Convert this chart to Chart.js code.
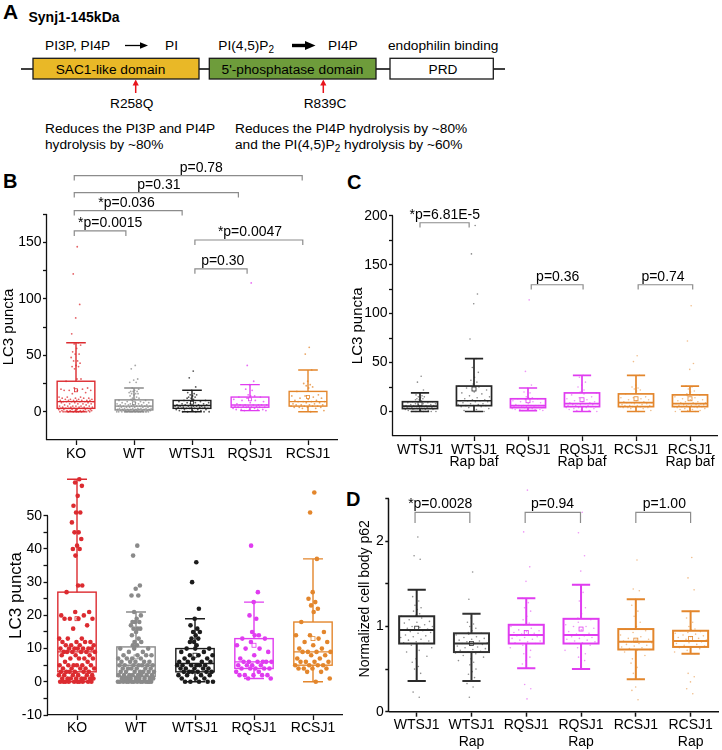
<!DOCTYPE html>
<html>
<head>
<meta charset="utf-8">
<script src="https://cdn.jsdelivr.net/npm/chart.js@4.4.1/dist/chart.umd.min.js"></script>
<style>
  html, body { margin: 0; padding: 0; background: #fff; }
  #page { position: relative; width: 722px; height: 750px; overflow: hidden; }
  #page canvas { position: absolute; }
  svg text { font-family: 'Liberation Sans', Arial, sans-serif; }
</style>
</head>
<body>
<div id="page">
<svg width="722" height="750" style="position:absolute;left:0;top:0">
  <text x="3" y="19" font-size="21" font-weight="bold">A</text>
  <text x="28.5" y="21.7" font-size="14" font-weight="bold">Synj1-145kDa</text>
  <g font-size="13.7">
    <text x="45" y="50">PI3P, PI4P</text>
    <line x1="125" y1="45.5" x2="141" y2="45.5" stroke="#000" stroke-width="1.3"/>
    <polygon points="140,42.3 148,45.5 140,48.7" fill="#000"/>
    <text x="165" y="50">PI</text>
    <text x="218.3" y="50">PI(4,5)P<tspan font-size="10" dy="3">2</tspan></text>
    <line x1="292" y1="45.5" x2="306" y2="45.5" stroke="#000" stroke-width="3.4"/>
    <polygon points="305,41 315.5,45.5 305,50" fill="#000"/>
    <text x="328" y="50">PI4P</text>
    <text x="388" y="50">endophilin binding</text>

    <line x1="21" y1="69" x2="505" y2="69" stroke="#000" stroke-width="1.3"/>
    <rect x="33" y="58.3" width="166" height="20.7" fill="#e9b827" stroke="#1a1a1a" stroke-width="1.3"/>
    <rect x="209.3" y="58.3" width="166.7" height="20.7" fill="#6e9c3b" stroke="#1a1a1a" stroke-width="1.3"/>
    <rect x="390" y="58.3" width="103.3" height="20.7" fill="#fff" stroke="#1a1a1a" stroke-width="1.3"/>
    <text x="110.5" y="74" text-anchor="middle">SAC1-like domain</text>
    <text x="292.5" y="74" text-anchor="middle">5'-phosphatase domain</text>
    <text x="443" y="74" text-anchor="middle">PRD</text>

    <line x1="135.7" y1="93" x2="135.7" y2="84" stroke="#e8141c" stroke-width="1.5"/>
    <polygon points="132.6,85.5 135.7,79.5 138.8,85.5" fill="#e8141c"/>
    <line x1="323.3" y1="93" x2="323.3" y2="84" stroke="#e8141c" stroke-width="1.5"/>
    <polygon points="320.2,85.5 323.3,79.5 326.4,85.5" fill="#e8141c"/>
    <text x="131.7" y="108.3" text-anchor="middle">R258Q</text>
    <text x="325" y="108.3" text-anchor="middle">R839C</text>

    <text x="45" y="132.7">Reduces the PI3P and PI4P</text>
    <text x="45" y="148.5">hydrolysis by ~80%</text>
    <text x="235" y="132.7">Reduces the PI4P hydrolysis by ~80%</text>
    <text x="235" y="148.5">and the PI(4,5)P<tspan font-size="10" dy="3">2</tspan><tspan dy="-3"> hydrolysis by ~60%</tspan></text>
  </g>
  <text x="3" y="188" font-size="20" font-weight="bold">B</text>
  <text x="347" y="189" font-size="20" font-weight="bold">C</text>
  <text x="346" y="506" font-size="20" font-weight="bold">D</text>
</svg>
</div>
<script>
Chart.defaults.font.family = "'Liberation Sans', Arial, sans-serif";
Chart.defaults.color = "#000";

// ---- B: LC3 puncta per neuron ----
const bLabels = ["KO", "WT", "WTSJ1", "RQSJ1", "RCSJ1"];
const koPts = [146, 122, 95, 83, 69, 61, 60, 59, 56, 53, 51, 51, 48, 45, 45, 43, 41, 40, 40, 38, 29, 29, 27,
  21, 21, 20, 20, 19, 19, 19, 19, 17, 16, 13, 13, 13, 12, 12, 12, 12, 11, 11, 11, 11, 10, 10, 10, 10, 10, 10, 10,
  9, 9, 9, 9, 9, 9, 8, 8, 8, 7, 7, 7, 7, 6, 6, 5, 5, 5, 5, 5, 5, 4, 4, 4, 4, 4, 3, 3, 3, 3, 3, 3,
  2, 2, 2, 2, 2, 2, 1, 1, 1, 1, 1, 1, 1, 1, 0, 0, 0, 0, 0, 0, 0, 0, 0, 0];
const wtPts = [41, 38, 29, 28, 26, 26, 21, 20, 19, 18, 18, 18, 17, 16, 16, 16, 15, 14, 13, 12, 12, 11, 11, 10, 10, 10,
  9, 9, 8, 8, 8, 8, 7, 7, 7, 7, 6, 6, 6, 6, 6, 5, 5, 5, 5, 5, 5, 5, 4, 4, 4, 4, 4, 4, 3, 3, 3, 3, 3, 3, 3,
  2, 2, 2, 2, 2, 2, 2, 2, 1, 1, 1, 1, 1, 1, 1, 1, 1, 0, 0, 0, 0, 0, 0, 0, 0, 0, 0, 0, 0, 0, 0];
const wtsj1Pts = [36, 30, 22, 19, 17, 16, 15, 15, 14, 13, 13, 12, 12, 11, 10, 10, 10, 9, 9, 8, 8, 8, 7, 7, 7,
  6, 6, 6, 6, 5, 5, 5, 5, 5, 5, 4, 4, 4, 4, 4, 3, 3, 3, 3, 3, 3, 2, 2, 2, 2, 1, 1, 1, 0, 0, 0, 0, 0];
const rqsj1Pts = [114, 41, 27, 24, 20, 19, 15, 14, 14, 13, 13, 12, 11, 10, 10, 9, 8, 7, 6, 6, 6, 6, 6, 6,
  5, 5, 5, 5, 4, 4, 4, 4, 4, 3, 3, 2, 2, 2, 2, 2, 1, 1];
const rcsj1Pts = [57, 51, 37, 27, 25, 24, 23, 22, 21, 18, 15, 14, 14, 13, 12, 12, 11, 10, 10, 9, 9, 9, 9, 8, 8,
  7, 7, 6, 6, 6, 6, 5, 5, 5, 5, 4, 4, 4, 4, 3, 3, 1, 0];
const bLow = [0, 0, 0, 1, 0];
const bQ1 = [3, 1.6, 3, 4, 5];
const bMed = [9, 5, 5.5, 6, 9];
const bQ3 = [27, 10.5, 10, 13, 18];
const bHigh = [61, 21, 19, 24, 37];
const bMean = [19, 7.5, 8, 11, 13];
const bColors = ["#dc2b30", "#8a8a8a", "#1c1c1c", "#e03cf0", "#e3862c"];
const bTopTicks = [0, 25, 50, 75, 100, 125, 150, 175];
const bTopTickLabels = [0, 50, 100, 150];
const bBotTicks = [-10, -5, 0, 5, 10, 15, 20, 25, 30, 35, 40, 45, 50];
const bBotTickLabels = [-10, 0, 10, 20, 30, 40, 50];
const bPairFrom = [-0.03, -0.03, -0.03, -0.03, 2.05, 2.05];
const bPairTo = [3.9, 2.8, 1.83, 0.86, 3.91, 2.95];
const bPairY = [209, 194, 178, 160, 152, 126.5];
const bPairText = ["p=0.78", "p=0.31", "*p=0.036", "*p=0.0015", "*p=0.0047", "p=0.30"];
const bPairTextX = [2.16, 1.43, 0.87, 0.59, 3.0, 2.53];

// ---- C: LC3 puncta with rapamycin + bafilomycin ----
const cLabels = ["WTSJ1", ["WTSJ1", "Rap baf"], "RQSJ1", ["RQSJ1", "Rap baf"], "RCSJ1", ["RCSJ1", "Rap baf"]];
const wtsj1RapBafPts = [190, 161, 120, 110, 74, 54, 45, 40, 35, 32, 30, 28, 26, 25, 24, 22, 20, 19, 18, 16, 15, 14,
  13, 12, 12, 11, 11, 11, 10, 10, 9, 8, 8, 7, 7, 6, 6, 6, 5, 5, 4, 3, 2, 1, 0];
const rqsj1RapBafPts = [37, 35, 30, 27, 25, 22, 20, 19, 18, 17, 15, 14, 13, 12, 11, 10, 10, 9, 9, 8, 8, 8, 7, 7, 7,
  6, 6, 6, 5, 5, 5, 5, 4, 4, 4, 3, 3, 2, 2, 1, 1, 0];
const rcsj1RapBafPts = [108, 72, 49, 43, 26, 25, 23, 21, 20, 18, 17, 16, 15, 14, 13, 12, 12, 11, 10, 10, 9, 9, 9,
  8, 8, 8, 7, 7, 7, 6, 6, 6, 6, 5, 5, 5, 5, 4, 4, 4, 3, 3, 2, 2, 1, 1, 0, 0];
const cLow = [0, 0, 1, 0, 0, 0];
const cQ1 = [3, 6, 4, 5, 5, 5];
const cMed = [5.5, 11, 6, 8, 9, 8];
const cQ3 = [10, 26, 13, 19, 18, 17];
const cHigh = [19, 54, 24, 37, 37, 26];
const cMean = [8, 23, 11, 12, 13, 13];
const cColors = ["#262626", "#262626", "#e03cf0", "#e03cf0", "#e3862c", "#e3862c"];
const cTicks = [0, 25, 50, 75, 100, 125, 150, 175, 200];
const cTickLabels = [0, 50, 100, 150, 200];
const cPairFrom = [0, 2.06, 4.04];
const cPairTo = [0.91, 3.02, 5.05];
const cPairY = [192.8, 129.5, 129.5];
const cPairText = ["*p=6.81E-5", "p=0.36", "p=0.74"];
const cPairTextX = [0.46, 2.55, 4.5];

// ---- D: normalized cell body p62 ----
const dLabels = ["WTSJ1", ["WTSJ1", "Rap"], "RQSJ1", ["RQSJ1", "Rap"], "RCSJ1", ["RCSJ1", "Rap"]];
const p62Wtsj1 = [2.05, 1.83, 1.79, 1.43, 1.35, 1.3, 1.25, 1.22, 1.2, 1.18, 1.15, 1.13, 1.12, 1.1, 1.08, 1.06, 1.05,
  1.04, 1.02, 1.0, 1.0, 0.99, 0.98, 0.97, 0.96, 0.96, 0.95, 0.94, 0.93, 0.92, 0.9, 0.89, 0.88, 0.87, 0.85, 0.84,
  0.83, 0.82, 0.81, 0.8, 0.78, 0.75, 0.72, 0.7, 0.65, 0.62, 0.58, 0.53, 0.5, 0.45, 0.36, 0.23, 0.17];
const p62Wtsj1Rap = [1.64, 1.32, 1.15, 1.1, 1.05, 1.03, 1.0, 0.98, 0.95, 0.93, 0.92, 0.91, 0.9, 0.88, 0.87, 0.86,
  0.85, 0.84, 0.83, 0.82, 0.81, 0.8, 0.8, 0.79, 0.78, 0.77, 0.76, 0.75, 0.74, 0.73, 0.72, 0.71, 0.7, 0.69, 0.68,
  0.66, 0.64, 0.62, 0.6, 0.58, 0.55, 0.5, 0.47, 0.44, 0.4, 0.36, 0.33, 0.29, 0.17];
const p62Rqsj1 = [2.6, 2.11, 1.7, 1.53, 1.33, 1.28, 1.22, 1.18, 1.12, 1.08, 1.04, 1.02, 1.0, 0.98, 0.96, 0.95, 0.94,
  0.93, 0.92, 0.91, 0.9, 0.9, 0.89, 0.88, 0.87, 0.86, 0.85, 0.84, 0.83, 0.82, 0.81, 0.8, 0.78, 0.75, 0.72, 0.68,
  0.64, 0.6, 0.56, 0.51, 0.32, 0.27, 0.15];
const p62Rqsj1Rap = [2.34, 2.1, 1.83, 1.65, 1.49, 1.4, 1.3, 1.22, 1.15, 1.1, 1.08, 1.05, 1.02, 1.0, 1.0, 0.98, 0.96,
  0.94, 0.92, 0.91, 0.9, 0.89, 0.88, 0.87, 0.86, 0.85, 0.84, 0.83, 0.82, 0.81, 0.8, 0.78, 0.75, 0.72, 0.68, 0.64,
  0.6, 0.55, 0.5];
const p62Rcsj1 = [1.78, 1.44, 1.42, 1.32, 1.25, 1.18, 1.12, 1.05, 1.0, 0.97, 0.95, 0.93, 0.9, 0.88, 0.86, 0.85,
  0.84, 0.83, 0.82, 0.82, 0.81, 0.8, 0.79, 0.78, 0.77, 0.76, 0.75, 0.74, 0.73, 0.72, 0.7, 0.66, 0.62, 0.57, 0.52,
  0.45, 0.38, 0.29, 0.25, 0.14];
const p62Rcsj1Rap = [1.81, 1.57, 1.43, 1.18, 1.1, 1.05, 1.0, 0.97, 0.96, 0.95, 0.94, 0.93, 0.92, 0.91, 0.9, 0.89,
  0.88, 0.87, 0.86, 0.85, 0.84, 0.83, 0.83, 0.82, 0.81, 0.8, 0.79, 0.78, 0.77, 0.76, 0.75, 0.74, 0.72, 0.7, 0.68,
  0.45, 0.41, 0.35, 0.27, 0.21];
const dLow = [0.36, 0.36, 0.51, 0.50, 0.38, 0.68];
const dQ1 = [0.80, 0.70, 0.80, 0.80, 0.73, 0.76];
const dMed = [0.96, 0.80, 0.90, 0.90, 0.82, 0.83];
const dQ3 = [1.12, 0.92, 1.02, 1.09, 0.97, 0.95];
const dHigh = [1.43, 1.15, 1.33, 1.49, 1.32, 1.18];
const dMean = [0.98, 0.80, 0.93, 0.97, 0.84, 0.86];
const dColors = ["#2a2a2a", "#333333", "#e03cf0", "#e03cf0", "#e3862c", "#e3862c"];
const dTicks = [0, 0.5, 1, 1.5, 2, 2.5];
const dTickLabels = [0, 1, 2];
const dPairFrom = [-0.03, 1.98, 4.0];
const dPairTo = [0.97, 2.99, 5.0];
const dPairY = [2.34, 2.34, 2.34];
const dPairText = ["*p=0.0028", "p=0.94", "p=1.00"];
const dPairTextX = [0.43, 2.48, 4.52];

const page = document.getElementById("page");

function fade(hex, a) {
  const n = parseInt(hex.slice(1), 16);
  return `rgba(${n >> 16},${(n >> 8) & 255},${n & 255},${a})`;
}

// spread the dots sideways (golden-ratio steps, no randomness)
function jitter(k, spread) {
  return (((k + 1) * 0.618034) % 1 - 0.5) * spread;
}

function boxPlugin(cfg) {
  return {
    id: "boxes",
    beforeDatasetsDraw(chart) {
      // y axis line, stops at axisTop so outliers can sit above it
      const { ctx } = chart;
      const y = chart.scales.y;
      const x0 = Math.round(chart.chartArea.left) - 0.5;
      ctx.save();
      ctx.strokeStyle = "#111";
      ctx.lineWidth = cfg.axisW;
      ctx.beginPath();
      ctx.moveTo(x0, y.getPixelForValue(cfg.yMin));
      ctx.lineTo(x0, y.getPixelForValue(cfg.axisTop));
      ctx.stroke();
      ctx.restore();
    },
    afterDatasetsDraw(chart) {
      const { ctx } = chart;
      const x = chart.scales.x, y = chart.scales.y;
      ctx.save();
      cfg.labels.forEach((lab, i) => {
        const c = x.getPixelForValue(i);
        const hw = x.getPixelForValue(i + cfg.boxW / 2) - c;
        const cw = hw * 0.52;
        const yLo = y.getPixelForValue(cfg.lo[i]);
        const yQ1 = y.getPixelForValue(cfg.q1[i]);
        const yMed = y.getPixelForValue(cfg.med[i]);
        const yQ3 = y.getPixelForValue(cfg.q3[i]);
        const yHi = y.getPixelForValue(cfg.hi[i]);
        const yMean = y.getPixelForValue(cfg.mean[i]);
        ctx.strokeStyle = cfg.colors[i];
        ctx.lineWidth = cfg.lineW;
        ctx.beginPath();
        ctx.moveTo(c, yHi); ctx.lineTo(c, yQ3);
        ctx.moveTo(c, yQ1); ctx.lineTo(c, yLo);
        ctx.moveTo(c - cw, yHi); ctx.lineTo(c + cw, yHi);
        ctx.moveTo(c - cw, yLo); ctx.lineTo(c + cw, yLo);
        ctx.moveTo(c - hw, yMed); ctx.lineTo(c + hw, yMed);
        ctx.stroke();
        ctx.strokeRect(c - hw, yQ3, 2 * hw, yQ1 - yQ3);
        ctx.lineWidth = 0.8;
        const m = cfg.meanSize;
        ctx.strokeRect(c - m / 2, yMean - m / 2, m, m);
      });
      // significance brackets
      ctx.strokeStyle = "#8c8c8c";
      ctx.lineWidth = 1.2;
      ctx.fillStyle = "#000";
      ctx.font = "14px 'Liberation Sans', Arial, sans-serif";
      ctx.textAlign = "center";
      ctx.textBaseline = "alphabetic";
      cfg.pairFrom.forEach((a, j) => {
        const xa = x.getPixelForValue(a);
        const xb = x.getPixelForValue(cfg.pairTo[j]);
        const yb = y.getPixelForValue(cfg.pairY[j]);
        ctx.beginPath();
        ctx.moveTo(xa, yb + cfg.leg); ctx.lineTo(xa, yb);
        ctx.lineTo(xb, yb); ctx.lineTo(xb, yb + cfg.leg);
        ctx.stroke();
        ctx.fillText(cfg.pairText[j], x.getPixelForValue(cfg.pairTextX[j]), yb - 4);
      });
      ctx.restore();
    }
  };
}

function boxChart(cfg) {
  const cv = document.createElement("canvas");
  cv.width = cfg.box.w;
  cv.height = cfg.box.h;
  cv.style.left = cfg.box.l + "px";
  cv.style.top = cfg.box.t + "px";
  page.appendChild(cv);

  // plot.t is where axisTop sits; the chart area reaches a bit higher (yMax)
  const ppu = (cfg.plot.b - cfg.plot.t) / (cfg.axisTop - cfg.yMin);
  const areaTop = cfg.plot.b - (cfg.yMax - cfg.yMin) * ppu;

  // dots in and just under the box spread wide, far ones stay near the whisker
  const datasets = cfg.groups.map((vals, i) => ({
    data: vals.map((v, k) => {
      const iqr = cfg.q3[i] - cfg.q1[i];
      const wide = v <= cfg.q3[i] && v >= cfg.q1[i] - iqr * 0.5;
      return { x: i + jitter(k, wide ? cfg.spread : cfg.spread * 0.3), y: v };
    }),
    pointRadius: cfg.dot,
    pointBackgroundColor: fade(cfg.colors[i], cfg.dotAlpha),
    pointBorderWidth: 0,
    clip: false
  }));

  return new Chart(cv, {
    type: "scatter",
    data: { datasets },
    options: {
      responsive: false,
      animation: false,
      events: [],
      layout: {
        padding: { left: 0, bottom: 0, top: areaTop - cfg.box.t, right: cfg.box.l + cfg.box.w - cfg.plot.r }
      },
      plugins: { legend: { display: false }, tooltip: { enabled: false } },
      scales: {
        x: {
          type: "linear",
          min: -0.5,
          max: cfg.labels.length - 0.5,
          afterBuildTicks: (s) => { s.ticks = cfg.labels.map((l, i) => ({ value: i })); },
          afterFit: (s) => { s.height = cfg.box.t + cfg.box.h - cfg.plot.b; },
          ticks: {
            callback: (v) => cfg.labels[v],
            font: { size: 14, lineHeight: cfg.xLine },
            padding: cfg.xPad,
            maxRotation: 0,
            autoSkip: false
          },
          grid: { drawOnChartArea: false, tickLength: 5, color: "#111", tickWidth: cfg.axisW },
          border: { color: "#111", width: cfg.axisW }
        },
        y: {
          min: cfg.yMin,
          max: cfg.yMax,
          afterBuildTicks: (s) => { s.ticks = cfg.yTicks.map((v) => ({ value: v })); },
          afterFit: (s) => { s.width = cfg.plot.l - cfg.box.l; },
          ticks: {
            callback: (v) => (cfg.yLabels.includes(v) ? String(v) : ""),
            font: { size: 14 },
            padding: 1.5
          },
          grid: { drawOnChartArea: false, tickLength: 4, color: "#111", tickWidth: cfg.axisW },
          border: { display: false },
          title: {
            display: true,
            text: cfg.title,
            font: { size: cfg.titleSize },
            padding: { top: cfg.titlePad, bottom: 0 }
          }
        }
      }
    },
    plugins: [boxPlugin(cfg)]
  });
}

const bGroups = [koPts, wtPts, wtsj1Pts, rqsj1Pts, rcsj1Pts];

// B, full range
boxChart({
  box: { l: 0, t: 150, w: 348, h: 316 },
  plot: { l: 47, t: 214, r: 337, b: 440 },
  labels: bLabels, groups: bGroups, colors: bColors,
  lo: bLow, q1: bQ1, med: bMed, q3: bQ3, hi: bHigh, mean: bMean,
  yMin: -25, yMax: 175, axisTop: 175, yTicks: bTopTicks, yLabels: bTopTickLabels,
  title: "LC3 puncta", titleSize: 15, titlePad: 0,
  pairFrom: bPairFrom, pairTo: bPairTo, pairY: bPairY, pairText: bPairText, pairTextX: bPairTextX,
  leg: 5, boxW: 0.65, lineW: 1.4, meanSize: 3, axisW: 1.3,
  dot: 0.9, dotAlpha: 0.75, spread: 0.6, xLine: 1.2, xPad: 1
});

// B, zoomed with large dots (values above 62 fall outside)
boxChart({
  box: { l: 0, t: 466, w: 348, h: 284 },
  plot: { l: 47.5, t: 513.3, r: 342.5, b: 715 },
  labels: bLabels, groups: bGroups, colors: bColors,
  lo: bLow, q1: bQ1, med: bMed, q3: bQ3, hi: bHigh, mean: bMean,
  yMin: -10, yMax: 62, axisTop: 50, yTicks: bBotTicks, yLabels: bBotTickLabels,
  title: "LC3 puncta", titleSize: 17, titlePad: 6,
  pairFrom: [], pairTo: [], pairY: [], pairText: [], pairTextX: [],
  leg: 5, boxW: 0.65, lineW: 1.4, meanSize: 4, axisW: 1.3,
  dot: 2.3, dotAlpha: 1, spread: 0.62, xLine: 1.2, xPad: 0
});

// C
boxChart({
  box: { l: 348, t: 150, w: 374, h: 326 },
  plot: { l: 393, t: 215.7, r: 717, b: 436 },
  labels: cLabels,
  groups: [wtsj1Pts, wtsj1RapBafPts, rqsj1Pts, rqsj1RapBafPts, rcsj1Pts, rcsj1RapBafPts],
  colors: cColors,
  lo: cLow, q1: cQ1, med: cMed, q3: cQ3, hi: cHigh, mean: cMean,
  yMin: -25, yMax: 200, axisTop: 200, yTicks: cTicks, yLabels: cTickLabels,
  title: "LC3 puncta", titleSize: 15, titlePad: 1,
  pairFrom: cPairFrom, pairTo: cPairTo, pairY: cPairY, pairText: cPairText, pairTextX: cPairTextX,
  leg: 4.7, boxW: 0.65, lineW: 1.7, meanSize: 4, axisW: 1.3,
  dot: 0.8, dotAlpha: 0.55, spread: 0.6, xLine: 0.85, xPad: 3
});

// D
boxChart({
  box: { l: 348, t: 476, w: 374, h: 274 },
  plot: { l: 389.3, t: 496.7, r: 719.3, b: 711.7 },
  labels: dLabels,
  groups: [p62Wtsj1, p62Wtsj1Rap, p62Rqsj1, p62Rqsj1Rap, p62Rcsj1, p62Rcsj1Rap],
  colors: dColors,
  lo: dLow, q1: dQ1, med: dMed, q3: dQ3, hi: dHigh, mean: dMean,
  yMin: 0, yMax: 2.65, axisTop: 2.5, yTicks: dTicks, yLabels: dTickLabels,
  title: "Normalized cell body p62", titleSize: 14, titlePad: 8.6,
  pairFrom: dPairFrom, pairTo: dPairTo, pairY: dPairY, pairText: dPairText, pairTextX: dPairTextX,
  leg: 10.7, boxW: 0.64, lineW: 2, meanSize: 4, axisW: 1.5,
  dot: 0.8, dotAlpha: 0.55, spread: 0.6, xLine: 1.2, xPad: 0
});
</script>
</body>
</html>
